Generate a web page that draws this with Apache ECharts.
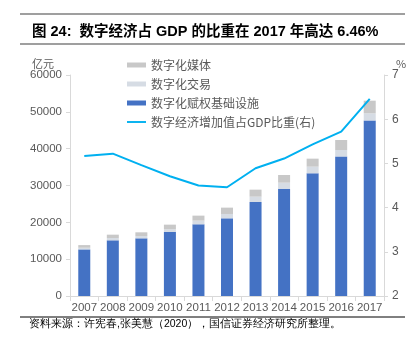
<!DOCTYPE html>
<html><head><meta charset="utf-8">
<script src="https://cdn.jsdelivr.net/npm/echarts@6/dist/echarts.min.js"></script>
<style>html,body{margin:0;padding:0;background:#fff}#c{width:418px;height:341px}</style>
</head><body><div id="c"></div>
<script>
const years = ['2007','2008','2009','2010','2011','2012','2013','2014','2015','2016','2017'];
const infra = [12650, 15120, 15660, 17380, 19460, 21090, 25520, 29140, 33310, 37900, 47680];
const trade = [450, 630, 630, 720, 1000, 1180, 1450, 1630, 1810, 1740, 1900];
const media = [720, 900, 1000, 1270, 1360, 1720, 1900, 2080, 2170, 2710, 3450];
const share = [5.17, 5.22, 4.96, 4.71, 4.50, 4.46, 4.89, 5.11, 5.43, 5.72, 6.46];
const leftTicks = [0, 60000, 10000];
const rightTicks = [2, 7, 1];

const font = '"Noto Sans CJK SC", sans-serif';
const chart = echarts.init(document.getElementById('c'));
chart.setOption({
  animation: false,
  textStyle: {fontFamily: font},
  title: {
    text: '图 24:  数字经济占 GDP 的比重在 2017 年高达 6.46%',
    left: 27, top: 20,
    textStyle: {fontSize: 14.5, fontWeight: 'bold', color: '#000', fontFamily: 'Liberation Sans, "Noto Sans CJK SC", sans-serif'}
  },
  graphic: [
    {type: 'line', shape: {x1: 20, y1: 14, x2: 405, y2: 14}, style: {stroke: '#7f7f7f', lineWidth: 1.5}},
    {type: 'line', shape: {x1: 20, y1: 44, x2: 405, y2: 44}, style: {stroke: '#7f7f7f', lineWidth: 1.5}},
    {type: 'line', shape: {x1: 20, y1: 317, x2: 405, y2: 317}, style: {stroke: '#000', lineWidth: 1}},
    {type: 'text', left: 29, top: 319, style: {text: '资料来源：许宪春,张美慧（2020），国信证券经济研究所整理。', fontSize: 10.5, fill: '#000', font: '10.5px ' + font}}
  ],
  legend: {
    orient: 'vertical', left: 122, top: 54, itemGap: 7,
    itemWidth: 19, itemHeight: 5,
    textStyle: {fontSize: 12, color: '#595959', fontFamily: font},
    data: [
      {name: '数字化媒体', icon: 'rect'},
      {name: '数字化交易', icon: 'rect'},
      {name: '数字化赋权基础设施', icon: 'rect'},
      {name: '数字经济增加值占GDP比重(右)', icon: 'path://M0,0 L40,0 L40,4 L0,4 Z'}
    ]
  },
  grid: {left: 70, right: 34, top: 75, bottom: 45, containLabel: false},
  xAxis: {
    type: 'category', data: years,
    axisLine: {lineStyle: {color: '#d9d9d9'}},
    axisTick: {show: true, alignWithLabel: false, lineStyle: {color: '#d9d9d9'}},
    axisLabel: {color: '#595959', fontSize: 11.5, margin: 6, interval: 0, fontFamily: 'Liberation Sans, sans-serif'}
  },
  yAxis: [
    {type: 'value', min: leftTicks[0], max: leftTicks[1], interval: leftTicks[2],
     name: '亿元', nameLocation: 'end', nameGap: 5,
     nameTextStyle: {color: '#595959', fontSize: 11, align: 'right', padding: [0, 16, 0, 0]},
     axisLine: {show: true, lineStyle: {color: '#d9d9d9'}},
     axisTick: {show: true, length: 4, lineStyle: {color: '#d9d9d9'}},
     splitLine: {show: false},
     axisLabel: {color: '#595959', fontSize: 11.5, margin: 8, fontFamily: 'Liberation Sans, sans-serif',
       formatter: v => String(v)}},
    {type: 'value', min: rightTicks[0], max: rightTicks[1], interval: rightTicks[2], position: 'right',
     name: '%', nameLocation: 'end', nameGap: 5,
     nameTextStyle: {color: '#595959', fontSize: 11, align: 'left', padding: [0, 0, 0, 12]},
     axisLine: {show: true, lineStyle: {color: '#d9d9d9'}},
     axisTick: {show: true, length: 4, lineStyle: {color: '#d9d9d9'}},
     splitLine: {show: false},
     axisLabel: {color: '#595959', fontSize: 12, margin: 8, fontFamily: 'Liberation Sans, sans-serif'}}
  ],
  series: [
    {name: '数字化赋权基础设施', type: 'bar', stack: 'a', data: infra, barWidth: 12, itemStyle: {color: '#4472c4'}},
    {name: '数字化交易', type: 'bar', stack: 'a', data: trade, itemStyle: {color: '#d6dce4'}},
    {name: '数字化媒体', type: 'bar', stack: 'a', data: media, itemStyle: {color: '#c8c8c8'}},
    {name: '数字经济增加值占GDP比重(右)', type: 'line', yAxisIndex: 1, data: share,
     symbol: 'none', lineStyle: {color: '#00b0f0', width: 2}, itemStyle: {color: '#00b0f0'}}
  ]
});
</script></body></html>
